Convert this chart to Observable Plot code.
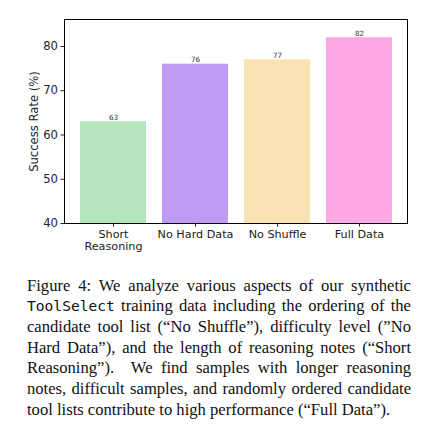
<!DOCTYPE html>
<html>
<head>
<meta charset="utf-8">
<script src="https://cdn.jsdelivr.net/npm/d3@7"></script>
<script src="https://cdn.jsdelivr.net/npm/@observablehq/plot@0.6"></script>
<style>
  html, body { margin: 0; padding: 0; background: #fff; }
  #chart svg { display: block; }
  #caption {
    position: absolute; left: 27px; top: 275.5px; width: 384px;
    font-family: "Liberation Serif", "Times New Roman", serif;
    font-size: 16.6px; line-height: 20.7px; text-align: justify; color: #111;
  }
  #caption code { font-family: "DejaVu Sans Mono", monospace; font-size: 14.6px; line-height: 1; }
</style>
</head>
<body>
<div id="chart"></div>
<div id="caption">Figure 4: We analyze various aspects of our synthetic <code>ToolSelect</code> training data including the ordering of the candidate tool list (“No Shuffle”), difficulty level (”No Hard Data”), and the length of reasoning notes (“Short Reasoning”). &nbsp;We find samples with longer reasoning notes, difficult samples, and randomly ordered candidate tool lists contribute to high performance (“Full Data”).</div>
<script>
const categories = ["Short Reasoning", "No Hard Data", "No Shuffle", "Full Data"];
const tickLabels = ["Short\nReasoning", "No Hard Data", "No Shuffle", "Full Data"];
const values = [63, 76, 77, 82];
const colors = ["#b4e5bd", "#bf9bf6", "#f9e3b3", "#fea9e3"];
const yTicks = [40, 50, 60, 70, 80];

const data = categories.map((c, i) => ({category: c, value: values[i], color: colors[i]}));

const chart = Plot.plot({
  width: 435,
  height: 255,
  marginLeft: 64,
  marginRight: 28,
  marginTop: 19,
  marginBottom: 32,
  style: {fontFamily: "DejaVu Sans", fontSize: "12.3px", background: "#fff", color: "#222"},
  x: {domain: categories, paddingInner: 0.2, paddingOuter: 0.19, label: null},
  y: {domain: [40, 86.1], label: null},
  marks: [
    Plot.barY(data, {x: "category", y1: 40, y2: "value", fill: "color"}),
    Plot.text(data, {x: "category", y: "value", text: d => String(d.value), dy: -2, fontSize: 7.2, fill: "#333", lineAnchor: "bottom"}),
    Plot.frame({stroke: "#000", strokeWidth: 1}),
    Plot.axisY({ticks: yTicks, tickSize: 3.5, tickPadding: 3, fontSize: "11.6px",
      label: "Success Rate (%)", labelAnchor: "center", labelArrow: "none", labelOffset: 34.5}),
    Plot.axisX({tickSize: 3.5, tickPadding: 2, fontSize: "11.2px", lineHeight: 1.1,
      tickFormat: d => tickLabels[categories.indexOf(d)], label: null})
  ]
});
document.getElementById("chart").appendChild(chart);
</script>
</body>
</html>
